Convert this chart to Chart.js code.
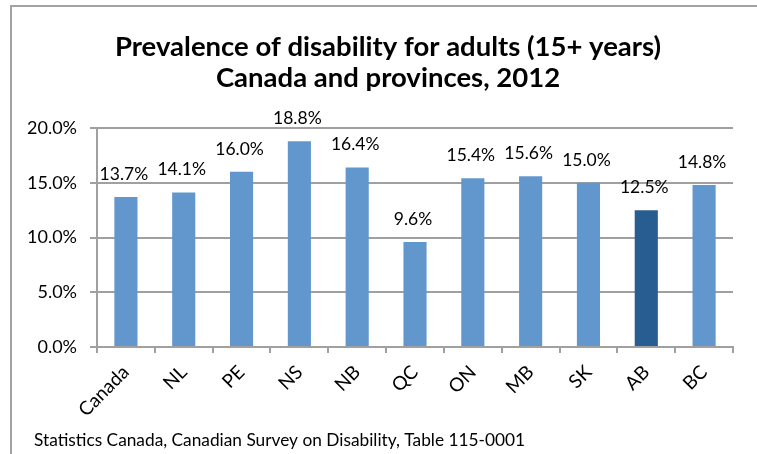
<!DOCTYPE html>
<html>
<head>
<meta charset="utf-8">
<script src="https://cdn.jsdelivr.net/npm/chart.js@4/dist/chart.umd.min.js"></script>
<style>
  html, body { margin: 0; padding: 0; background: #fff; overflow: hidden; }
  #wrap { position: relative; width: 757px; height: 454px; }
  #frame { position: absolute; left: 10px; top: 5px; right: -10px; bottom: -10px; border: 2px solid #a3a3a3; }
  canvas { position: absolute; left: 0; top: 0; }
</style>
</head>
<body>
<div id="wrap">
  <div id="frame"></div>
  <canvas id="chart" width="757" height="454"></canvas>
</div>
<script>
const regions = ["Canada", "NL", "PE", "NS", "NB", "QC", "ON", "MB", "SK", "AB", "BC"];
const prevalence = [13.7, 14.1, 16.0, 18.8, 16.4, 9.6, 15.4, 15.6, 15.0, 12.5, 14.8];
const highlighted = "AB";
const yTicks = [0, 5, 10, 15, 20];
const titleLines = ["Prevalence of disability for adults (15+ years)", "Canada and provinces, 2012"];
const source = "Statistics Canada, Canadian Survey on Disability, Table 115-0001";

const LIGHT = "#6297cd";
const DARK = "#285d91";
const GRID = "#a0a0a0";
const FONT = "Lato, 'Open Sans', sans-serif";

// percent labels over each bar
const barLabels = {
  id: "barLabels",
  afterDatasetsDraw(chart) {
    const ctx = chart.ctx;
    const meta = chart.getDatasetMeta(0);
    ctx.save();
    ctx.font = "17.5px " + FONT;
    ctx.fillStyle = "#000";
    ctx.textAlign = "center";
    ctx.textBaseline = "bottom";
    meta.data.forEach((bar, i) => {
      ctx.fillText(prevalence[i].toFixed(1) + "%", bar.x - 2, bar.y - 14);
    });
    ctx.restore();
  }
};

// heading on top, source note bottom-left
const headings = {
  id: "headings",
  afterDraw(chart) {
    const ctx = chart.ctx;
    ctx.save();
    ctx.fillStyle = "#000";
    ctx.textBaseline = "middle";
    ctx.textAlign = "center";
    ctx.font = "bold 27.5px " + FONT;
    ctx.fillText(titleLines[0], 388, 47);
    ctx.fillText(titleLines[1], 388, 78);
    ctx.textAlign = "left";
    ctx.font = "17.3px " + FONT;
    ctx.fillText(source, 34, 440);
    ctx.restore();
  }
};

new Chart(document.getElementById("chart"), {
  type: "bar",
  data: {
    labels: regions,
    datasets: [{
      data: prevalence,
      backgroundColor: regions.map(r => r === highlighted ? DARK : LIGHT),
      barPercentage: 0.4,
      categoryPercentage: 1.0
    }]
  },
  options: {
    responsive: false,
    animation: false,
    layout: { padding: { left: 20, right: 24, top: 128, bottom: 24 } },
    plugins: {
      legend: { display: false },
      tooltip: { enabled: false },
      title: { display: false }
    },
    scales: {
      x: {
        grid: { display: true, drawOnChartArea: false, offset: true, color: GRID, lineWidth: 2, tickLength: 6 },
        border: { color: GRID, width: 2 },
        ticks: { color: "#000", font: { family: FONT, size: 19 }, minRotation: 45, maxRotation: 45, padding: 8 },
        afterFit(scale) { scale.height = 83; }
      },
      y: {
        min: 0,
        max: 20,
        afterBuildTicks(scale) { scale.ticks = yTicks.map(v => ({ value: v })); },
        grid: { color: GRID, lineWidth: 2, tickLength: 7 },
        border: { color: GRID, width: 2 },
        ticks: {
          color: "#000",
          font: { family: FONT, size: 18 },
          padding: 13,
          callback: v => v.toFixed(1) + "%"
        },
        afterFit(scale) { scale.width = 77; }
      }
    }
  },
  plugins: [barLabels, headings]
});
</script>
</body>
</html>
